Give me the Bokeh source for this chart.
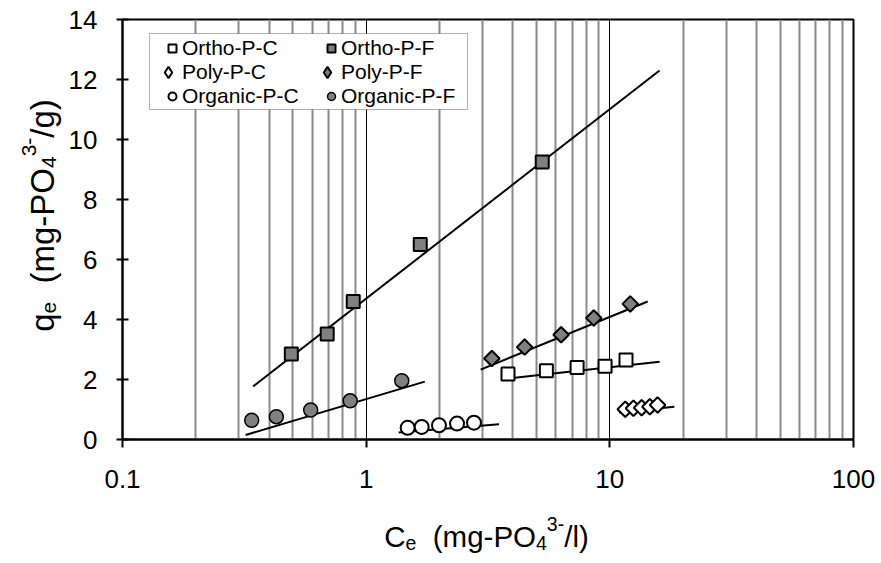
import math
from bokeh.plotting import figure
from bokeh.layouts import row, column
from bokeh.models import Range1d, FixedTicker, Legend, LegendItem, BoxAnnotation, Label
from bokeh.embed import file_html
from bokeh.resources import INLINE

# ---------------- data ----------------
ortho_c_x = [3.82, 5.49, 7.34, 9.56, 11.65]
ortho_c_y = [2.18, 2.29, 2.40, 2.44, 2.65]
ortho_f_x = [0.493, 0.692, 0.885, 1.667, 5.28]
ortho_f_y = [2.85, 3.52, 4.60, 6.50, 9.25]
poly_c_x = [11.57, 12.5, 13.5, 14.6, 15.7]
poly_c_y = [1.01, 1.04, 1.06, 1.09, 1.15]
poly_f_x = [3.28, 4.47, 6.31, 8.59, 12.13]
poly_f_y = [2.70, 3.08, 3.49, 4.05, 4.52]
org_c_x = [1.48, 1.69, 1.99, 2.36, 2.77]
org_c_y = [0.39, 0.42, 0.475, 0.53, 0.56]
org_f_x = [0.339, 0.428, 0.592, 0.86, 1.40]
org_f_y = [0.64, 0.76, 0.98, 1.29, 1.96]

# trend lines (start, end)
fit_ortho_c_x = [3.80, 16.0]
fit_ortho_c_y = [2.03, 2.59]
fit_ortho_f_x = [0.344, 16.0]
fit_ortho_f_y = [1.77, 12.30]
fit_poly_c_x = [10.9, 18.4]
fit_poly_c_y = [0.90, 1.09]
fit_poly_f_x = [2.95, 14.3]
fit_poly_f_y = [2.33, 4.60]
fit_org_c_x = [1.36, 3.51]
fit_org_c_y = [0.23, 0.51]
fit_org_f_x = [0.32, 1.74]
fit_org_f_y = [0.15, 1.93]

series_names = ["Ortho-P-C", "Ortho-P-F", "Poly-P-C", "Poly-P-F", "Organic-P-C", "Organic-P-F"]

x_ticks = [0.1, 1, 10, 100]
x_tick_labels = ["0.1", "1", "10", "100"]
x_minor = [m * 10.0 ** k for k in (-1, 0, 1) for m in range(2, 10)]
y_ticks = [0, 2, 4, 6, 8, 10, 12, 14]

FONT = "Liberation Sans"
GRAY = "#808080"

# ---------------- main plot ----------------
p = figure(x_axis_type="log", x_range=Range1d(0.1, 100), y_range=Range1d(0, 14),
           frame_width=731, frame_height=420,
           min_border_left=60, min_border_right=28, min_border_top=19, min_border_bottom=71,
           output_backend="svg", toolbar_location=None)
p.background_fill_color = "white"
p.border_fill_color = "white"
p.outline_line_color = "black"
p.outline_line_width = 2

p.ygrid.grid_line_color = None
p.xgrid.grid_line_color = "black"
p.xgrid.grid_line_width = 1
p.xgrid.minor_grid_line_color = "#8a8a8a"
p.xgrid.minor_grid_line_width = 2

p.xaxis.ticker = FixedTicker(ticks=x_ticks, minor_ticks=x_minor)
p.xaxis.major_label_overrides = {t: l for t, l in zip(x_ticks, x_tick_labels)}
p.yaxis.ticker = FixedTicker(ticks=y_ticks)
for ax in (p.xaxis[0], p.yaxis[0]):
    ax.axis_line_color = "black"
    ax.axis_line_width = 2
    ax.major_tick_line_color = "black"
    ax.major_tick_line_width = 2
    ax.minor_tick_line_color = None
    ax.major_label_text_font = FONT
    ax.major_label_text_font_size = "26px"
    ax.major_label_text_color = "black"
p.xaxis.major_tick_in = 0
p.xaxis.major_tick_out = 8
p.xaxis.major_label_standoff = 22
p.yaxis.major_tick_in = 6
p.yaxis.major_tick_out = 6
p.yaxis.major_label_standoff = 19

for fx, fy in [(fit_ortho_f_x, fit_ortho_f_y), (fit_org_f_x, fit_org_f_y), (fit_org_c_x, fit_org_c_y),
               (fit_poly_f_x, fit_poly_f_y), (fit_ortho_c_x, fit_ortho_c_y), (fit_poly_c_x, fit_poly_c_y)]:
    p.line(fx, fy, line_color="black", line_width=2)

# key proxies for the diamond series (tiny, hidden under the real markers; give the legend its diamond)
k_pc = p.scatter(poly_c_x, poly_c_y, marker="diamond", size=1, fill_color="white", line_color="black", line_width=2)
k_pf = p.scatter(poly_f_x, poly_f_y, marker="diamond", size=1, fill_color=GRAY, line_color="black", line_width=2)

r_oc = p.scatter(ortho_c_x, ortho_c_y, marker="square", size=13, fill_color="white", line_color="black", line_width=2)
r_of = p.scatter(ortho_f_x, ortho_f_y, marker="square", size=13, fill_color=GRAY, line_color="black", line_width=2)
r_pc = p.scatter(poly_c_x, poly_c_y, marker="square", size=11, angle=math.pi / 4, fill_color="white", line_color="black", line_width=2)
r_pf = p.scatter(poly_f_x, poly_f_y, marker="square", size=11, angle=math.pi / 4, fill_color=GRAY, line_color="black", line_width=2)
r_gc = p.scatter(org_c_x, org_c_y, marker="circle", size=14, fill_color="white", line_color="black", line_width=2)
r_gf = p.scatter(org_f_x, org_f_y, marker="circle", size=14, fill_color=GRAY, line_color="black", line_width=1.5)

# legend box
box = BoxAnnotation(left=27, right=345, bottom=330, top=406,
                    left_units="screen", right_units="screen", top_units="screen", bottom_units="screen",
                    fill_color="white", fill_alpha=1, line_color="black", line_width=1)
p.add_layout(box)

entries = [(series_names[0], r_oc, 0, 0, False), (series_names[2], k_pc, 0, 1, True),
           (series_names[4], r_gc, 0, 2, False), (series_names[1], r_of, 1, 0, False),
           (series_names[3], k_pf, 1, 1, True), (series_names[5], r_gf, 1, 2, False)]
col_x = [40, 199]
for name, rend, c, r, big in entries:
    gw = 28 if big else 20
    gh = 28 if big else 24
    bottom = 420 - (16.7 + 24 * (r + 1)) - (2 if big else 0)
    left = col_x[c] - (gw - 20)
    p.add_layout(Legend(items=[LegendItem(label=name, renderers=[rend])], location=(left, bottom),
                        glyph_width=gw, glyph_height=gh, label_height=gh, spacing=0, padding=0, margin=0,
                        label_standoff=0, border_line_color=None, background_fill_alpha=0,
                        label_text_font=FONT, label_text_font_size="21px", label_text_color="black"))

# ---------------- axis titles (separate strips so nothing is clipped) ----------------
W = {'C': .722, 'e': .556, ' ': .278, '(': .333, 'm': .833, 'g': .556, '-': .333, 'P': .667,
     'O': .778, '4': .556, '3': .556, '/': .278, 'l': .222, ')': .333, 'q': .556}


def tw(s, f):
    return sum(W[c] for c in s) * f


def title_parts(first, last, f, fs):
    # (text, font size, role); role in main / sub / sup / gap
    return [(first, f, "main"), ("e", fs, "sub"), ("  ", f, "gap"), ("(mg-PO", f, "main"),
            ("4", fs, "sub"), ("3-", fs, "sup"), (last, f, "main")]


def strip(w, h):
    f = figure(width=w, height=h, x_range=Range1d(0, 1), y_range=Range1d(0, 1),
               min_border=0, x_axis_location=None, y_axis_location=None,
               output_backend="svg", toolbar_location=None)
    f.outline_line_color = None
    f.background_fill_color = "white"
    f.border_fill_color = "white"
    f.grid.visible = False
    return f


# x title: anchors are centre lines of each piece (from strip bottom); the strip's frame is
# aligned with the main frame (left edge at the 0.1 gridline)
xf = strip(819, 53)
x_off = {"main": 27, "sub": 21, "sup": 39.5}
parts = title_parts("C", "/l)", 29.5, 19.5)
L = sum(tw(t, s) for t, s, _ in parts)
pos = 364 - L / 2
for t, s, role in parts:
    if role != "gap":
        xf.add_layout(Label(x=pos, y=x_off[role], x_units="screen", y_units="screen", text=t,
                            text_font=FONT, text_font_size=f"{s}px", text_color="black",
                            text_align="left", text_baseline="alphabetic"))
    pos += tw(t, s)

# y title (rotated, reads upward)
yf = strip(62, 563)
y_off = {"main": 41.6, "sub": 48.7, "sup": 28.7}
parts = title_parts("q", "/g)", 33, 21)
L = sum(tw(t, s) for t, s, _ in parts)
pos = 348 - L / 2
for t, s, role in parts:
    if role != "gap":
        yf.add_layout(Label(x=y_off[role], y=pos, x_units="screen", y_units="screen", text=t, angle=math.pi / 2,
                            text_font=FONT, text_font_size=f"{s}px", text_color="black",
                            text_align="left", text_baseline="alphabetic"))
    pos += tw(t, s)

layout = row(yf, column(p, xf, spacing=0), spacing=0)
open("out.html", "w").write(file_html(layout, INLINE))
